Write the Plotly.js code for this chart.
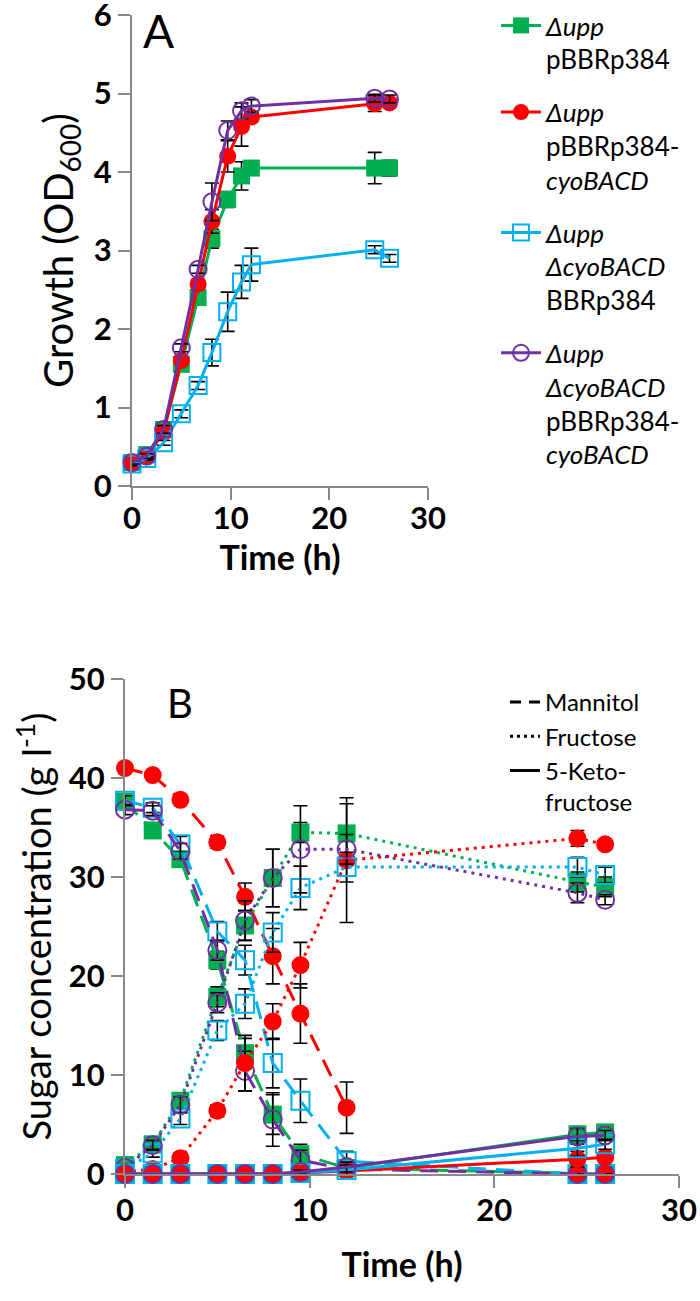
<!DOCTYPE html>
<html>
<head>
<meta charset="utf-8">
<script src="https://cdn.plot.ly/plotly-3.0.1.min.js"></script>
<style>
  html, body { margin: 0; padding: 0; background: #fff; }
  #chart { width: 700px; height: 1301px; }
</style>
</head>
<body>
<div id="chart"></div>
<script>
(function() {
  'use strict';

  // Panel A: growth (OD600)
  var timeA = [0, 1.5, 3.2, 5, 6.7, 8.1, 9.7, 11.1, 12.1, 24.6, 26.1];
  var odGreen  = [0.30, 0.40, 0.72, 1.55, 2.40, 3.15, 3.65, 3.95, 4.05, 4.05, 4.05];
  var odRed    = [0.28, 0.38, 0.68, 1.60, 2.57, 3.37, 4.20, 4.58, 4.70, 4.87, 4.88];
  var odBlue   = [0.28, 0.35, 0.55, 0.92, 1.28, 1.70, 2.22, 2.60, 2.82, 3.01, 2.90];
  var odPurple = [0.30, 0.38, 0.72, 1.76, 2.76, 3.62, 4.53, 4.78, 4.84, 4.94, 4.93];
  var odGreenErr  = [0.02, 0.03, 0.05, 0.05, 0.06, 0.12, 0.10, 0.18, 0.06, 0.20, 0.10];
  var odRedErr    = [0.02, 0.03, 0.05, 0.05, 0.06, 0.15, 0.20, 0.25, 0.06, 0.10, 0.05];
  var odBlueErr   = [0.02, 0.02, 0.03, 0.05, 0.05, 0.17, 0.25, 0.21, 0.21, 0.05, 0.05];
  var odPurpleErr = [0.02, 0.03, 0.05, 0.05, 0.05, 0.24, 0.12, 0.10, 0.08, 0.05, 0.05];

  // Panel B: sugars (g/l)
  var timeB = [0, 1.5, 3, 5, 6.5, 8, 9.5, 12, 24.5, 26];
  var manRed    = [41.0, 40.3, 37.8, 33.5, 28.0, 22.0, 16.2, 6.7, 0, 0];
  var manGreen  = [37.6, 34.7, 31.8, 21.6, 12.2, 6.0, 2.0, 0.6, 0, 0];
  var manBlue   = [37.7, 37.0, 33.3, 24.5, 21.6, 11.2, 7.4, 1.3, 0, 0];
  var manPurple = [36.8, 36.7, 32.6, 22.6, 10.4, 5.5, 1.4, 0.5, 0, 0];
  var fruRed    = [0.2, 0.5, 1.6, 6.4, 11.2, 15.4, 21.1, 31.7, 33.9, 33.3];
  var fruGreen  = [0.9, 3.0, 7.4, 17.9, 25.1, 29.9, 34.5, 34.4, 29.5, 29.0];
  var fruBlue   = [0.5, 2.1, 5.6, 14.5, 17.2, 24.4, 28.9, 31.0, 31.0, 30.2];
  var fruPurple = [0.6, 2.9, 7.0, 17.3, 25.6, 29.9, 32.8, 32.8, 28.4, 27.7];
  var kfRed    = [0, 0, 0, 0, 0, 0, 0.1, 0.3, 1.5, 1.7];
  var kfGreen  = [0, 0, 0, 0, 0, 0, 0.2, 0.6, 4.0, 4.2];
  var kfBlue   = [0, 0, 0, 0, 0, 0, 0.1, 0.4, 2.6, 3.0];
  var kfPurple = [0, 0, 0, 0, 0, 0, 0.2, 0.7, 3.8, 3.9];
  var manRedErr    = [0.3, 0.3, 0.4, 0.6, 1.4, 2.8, 3.0, 2.6, 0, 0];
  var manGreenErr  = [0.5, 0.5, 0.6, 0.9, 1.5, 2.0, 1.0, 0.6, 0, 0];
  var manBlueErr   = [0.5, 0.5, 0.8, 1.0, 1.5, 2.5, 2.2, 1.0, 0, 0];
  var manPurpleErr = [0.5, 0.5, 0.8, 1.0, 2.0, 2.7, 1.0, 0.5, 0, 0];
  var fruRedErr    = [0.1, 0.2, 0.5, 0.6, 2.8, 1.8, 2.3, 6.3, 0.8, 0.5];
  var fruGreenErr  = [0.3, 0.5, 0.6, 1.0, 1.5, 2.9, 1.0, 3.0, 1.0, 1.0];
  var fruBlueErr   = [0.3, 0.4, 0.6, 1.0, 1.5, 2.0, 2.2, 1.5, 1.0, 0.8];
  var fruPurpleErr = [0.3, 0.5, 0.8, 1.0, 2.0, 2.9, 4.4, 1.5, 1.0, 0.5];
  var kfErr = [0, 0, 0, 0, 0, 0, 0.2, 0.5, 0.8, 0.5];

  var strainNames = [
    '<i>Δupp</i><br>pBBRp384',
    '<i>Δupp</i><br>pBBRp384-<br><i>cyoBACD</i>',
    '<i>Δupp</i><br><i>ΔcyoBACD</i><br>BBRp384',
    '<i>Δupp</i><br><i>ΔcyoBACD</i><br>pBBRp384-<br><i>cyoBACD</i>'
  ];
  var sugarNames = ['Mannitol', 'Fructose', '5-Keto-<br>fructose'];

  var colors = ['#00B050', '#FF0000', '#00B0F0', '#7030A0'];
  var symbols = ['square', 'circle', 'square-open', 'circle-open'];
  var dashes = ['18px,10px', '3px,5px', 'solid'];
  var keyDashes = ['11px,8px', '3px,4px', 'solid'];

  function marker(i, size) {
    var open = symbols[i].indexOf('open') > 0;
    return {symbol: symbols[i], size: size, color: colors[i],
            line: {color: colors[i], width: open ? 2 : 0}};
  }
  function errs(arr, w) {
    return {type: 'data', array: arr, visible: true, color: '#000', thickness: 1.6, width: w};
  }

  var data = [];

  var odSeries = [odGreen, odRed, odBlue, odPurple];
  var odErrs = [odGreenErr, odRedErr, odBlueErr, odPurpleErr];
  odSeries.forEach(function(ys, i) {
    data.push({
      type: 'scatter', mode: 'lines+markers',
      x: timeA, y: ys, name: strainNames[i],
      xaxis: 'x', yaxis: 'y', legend: 'legend', legendgroup: 'g' + i,
      line: {color: colors[i], width: 3},
      marker: marker(i, 17),
      error_y: errs(odErrs[i], 7),
      cliponaxis: false
    });
  });

  var sugars = [
    [manGreen, manRed, manBlue, manPurple],
    [fruGreen, fruRed, fruBlue, fruPurple],
    [kfGreen, kfRed, kfBlue, kfPurple]
  ];
  var sugarErrs = [
    [manGreenErr, manRedErr, manBlueErr, manPurpleErr],
    [fruGreenErr, fruRedErr, fruBlueErr, fruPurpleErr],
    [kfErr, kfErr, kfErr, kfErr]
  ];
  // the red mannitol curve is not joined across the 12 h -> 24.5 h gap
  var lastJoined = 7;
  sugars.forEach(function(group, s) {
    group.forEach(function(ys, i) {
      var split = (s === 0 && i === 1);
      var n = split ? lastJoined + 1 : timeB.length;
      data.push({
        type: 'scatter', mode: 'lines+markers',
        x: timeB.slice(0, n), y: ys.slice(0, n), showlegend: false,
        xaxis: 'x2', yaxis: 'y2',
        line: {color: colors[i], width: 3, dash: dashes[s]},
        marker: marker(i, 18),
        error_y: errs(sugarErrs[s][i].slice(0, n), 7),
        cliponaxis: false
      });
      if (split) {
        data.push({
          type: 'scatter', mode: 'markers',
          x: timeB.slice(n), y: ys.slice(n), showlegend: false,
          xaxis: 'x2', yaxis: 'y2',
          marker: marker(i, 18),
          cliponaxis: false
        });
      }
    });
  });

  // line-style key for panel B
  sugarNames.forEach(function(name, s) {
    data.push({
      type: 'scatter', mode: 'lines', x: [null], y: [null],
      name: name, xaxis: 'x2', yaxis: 'y2', legend: 'legend2',
      line: {color: '#000', width: 3, dash: keyDashes[s]}
    });
  });

  var axisLine = {
    showline: true, linecolor: '#898989', linewidth: 2,
    ticks: 'outside', ticklen: 12, tickwidth: 2, tickcolor: '#898989',
    showgrid: false, zeroline: false, fixedrange: true,
    ticklabeloverflow: 'allow',
    tickfont: {size: 31, weight: 'bold', color: '#000'}
  };
  function ax(extra) { return Object.assign({}, axisLine, extra); }

  var layout = {
    width: 700, height: 1301,
    margin: {l: 0, r: 0, t: 0, b: 0, autoexpand: false},
    paper_bgcolor: '#fff', plot_bgcolor: '#fff',
    font: {family: 'Lato, "Open Sans", sans-serif', color: '#000'},
    showlegend: true,
    xaxis: ax({domain: [132 / 700, 428 / 700], range: [0, 30], tickvals: [0, 10, 20, 30],
      anchor: 'y', automargin: true, ticklabelstandoff: -8,
      title: {text: 'Time (h)', font: {size: 34, weight: 'bold'}, standoff: 10}}),
    yaxis: ax({domain: [1 - 486 / 1301, 1 - 15 / 1301], range: [0, 6], dtick: 1,
      anchor: 'x', automargin: true,
      title: {text: 'Growth (OD<sub>600</sub>)', font: {size: 40}, standoff: 8}}),
    xaxis2: ax({domain: [125 / 700, 679 / 700], range: [0, 30], tickvals: [0, 10, 20, 30],
      anchor: 'y2', automargin: true, ticklabelstandoff: -4,
      title: {text: 'Time (h)', font: {size: 34, weight: 'bold'}, standoff: 26}}),
    yaxis2: ax({domain: [1 - 1174 / 1301, 1 - 679 / 1301], range: [0, 50], dtick: 10,
      anchor: 'x2', automargin: true,
      title: {text: 'Sugar concentration (g l<sup>-1</sup>)', font: {size: 38}, standoff: 6}}),
    legend: {
      x: 496 / 700, y: 1 - 2 / 1301, xanchor: 'left', yanchor: 'top',
      font: {size: 26}, valign: 'top', tracegroupgap: 16, itemwidth: 40,
      bgcolor: 'rgba(0,0,0,0)', traceorder: 'grouped'
    },
    legend2: {
      x: 505 / 700, y: 1 - 680 / 1301, xanchor: 'left', yanchor: 'top',
      font: {size: 24}, valign: 'top', tracegroupgap: 0,
      bgcolor: 'rgba(0,0,0,0)'
    },
    annotations: [
      {text: 'A', xref: 'paper', yref: 'paper', x: 158 / 700, y: 1 - 30 / 1301,
       xanchor: 'center', yanchor: 'middle', showarrow: false, font: {size: 46}},
      {text: 'B', xref: 'paper', yref: 'paper', x: 180 / 700, y: 1 - 703 / 1301,
       xanchor: 'center', yanchor: 'middle', showarrow: false, font: {size: 40}}
    ]
  };

  Plotly.newPlot('chart', data, layout, {displayModeBar: false, staticPlot: true});
}());
</script>
</body>
</html>
